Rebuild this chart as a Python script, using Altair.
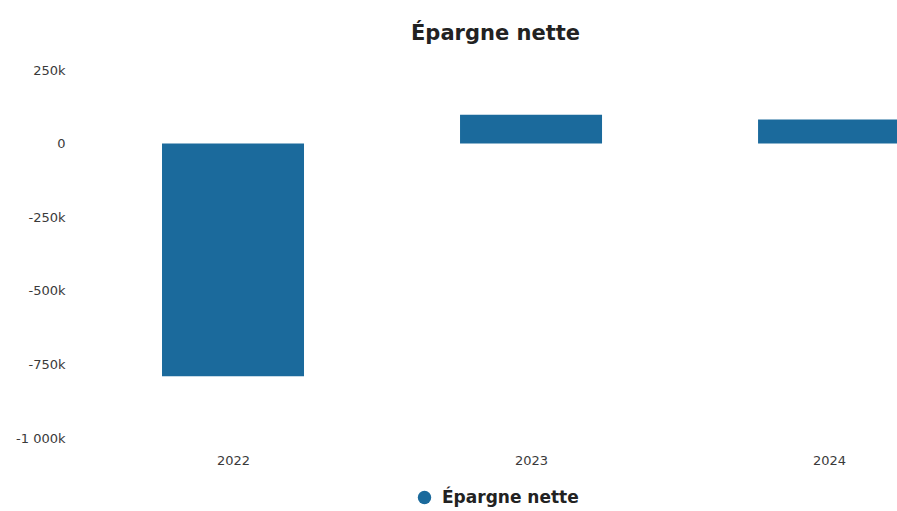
import altair as alt
import pandas as pd

years = [2022, 2023, 2024]
values = [-790000, 98000, 82000]
series = ["Épargne nette"] * 3

df = pd.DataFrame({"year": years, "value": values, "series": series})

y_label_expr = (
    "datum.value == 0 ? '0' : "
    "replace(replace(format(datum.value / 1000, ',.0f'), ',', ' '), '\u2212', '-') + 'k'"
)

chart = (
    alt.Chart(df)
    .mark_bar(size=142, clip=True)
    .encode(
        x=alt.X(
            "year:Q",
            scale=alt.Scale(domain=[2021.5, 2024.228], nice=False, zero=False, padding=0),
            axis=alt.Axis(
                values=years, format="d", title=None, grid=False, ticks=False,
                domain=False, labelPadding=16, labelFontSize=13,
                labelFont="DejaVu Sans", labelColor="#3a3a3a",
            ),
        ),
        y=alt.Y(
            "value:Q",
            scale=alt.Scale(domain=[-1000000, 250000], nice=False),
            axis=alt.Axis(
                values=[-1000000, -750000, -500000, -250000, 0, 250000],
                labelExpr=y_label_expr, title=None, grid=False, ticks=False,
                domain=False, labelPadding=19, labelFontSize=13,
                labelFont="DejaVu Sans", labelColor="#3a3a3a",
            ),
        ),
        color=alt.Color(
            "series:N",
            scale=alt.Scale(range=["#1b6a9c"]),
            legend=alt.Legend(
                title=None, orient="none", legendX=332, legendY=419,
                symbolType="circle", symbolSize=180, labelFontSize=17,
                labelOffset=9, labelFontWeight="bold", labelFont="DejaVu Sans",
                labelColor="#222222",
            ),
        ),
    )
    .properties(
        width=813,
        height=368,
        title=alt.TitleParams(
            "Épargne nette", fontSize=21, font="DejaVu Sans", fontWeight="bold",
            color="#222222", anchor="middle", dx=5, offset=20,
        ),
        autosize=alt.AutoSizeParams(type="none"),
        padding={"left": 84, "top": 70, "right": 0, "bottom": 73},
    )
    .configure_view(stroke=None)
)

chart.save("out.html", embed_options={"renderer": "svg", "actions": False})
